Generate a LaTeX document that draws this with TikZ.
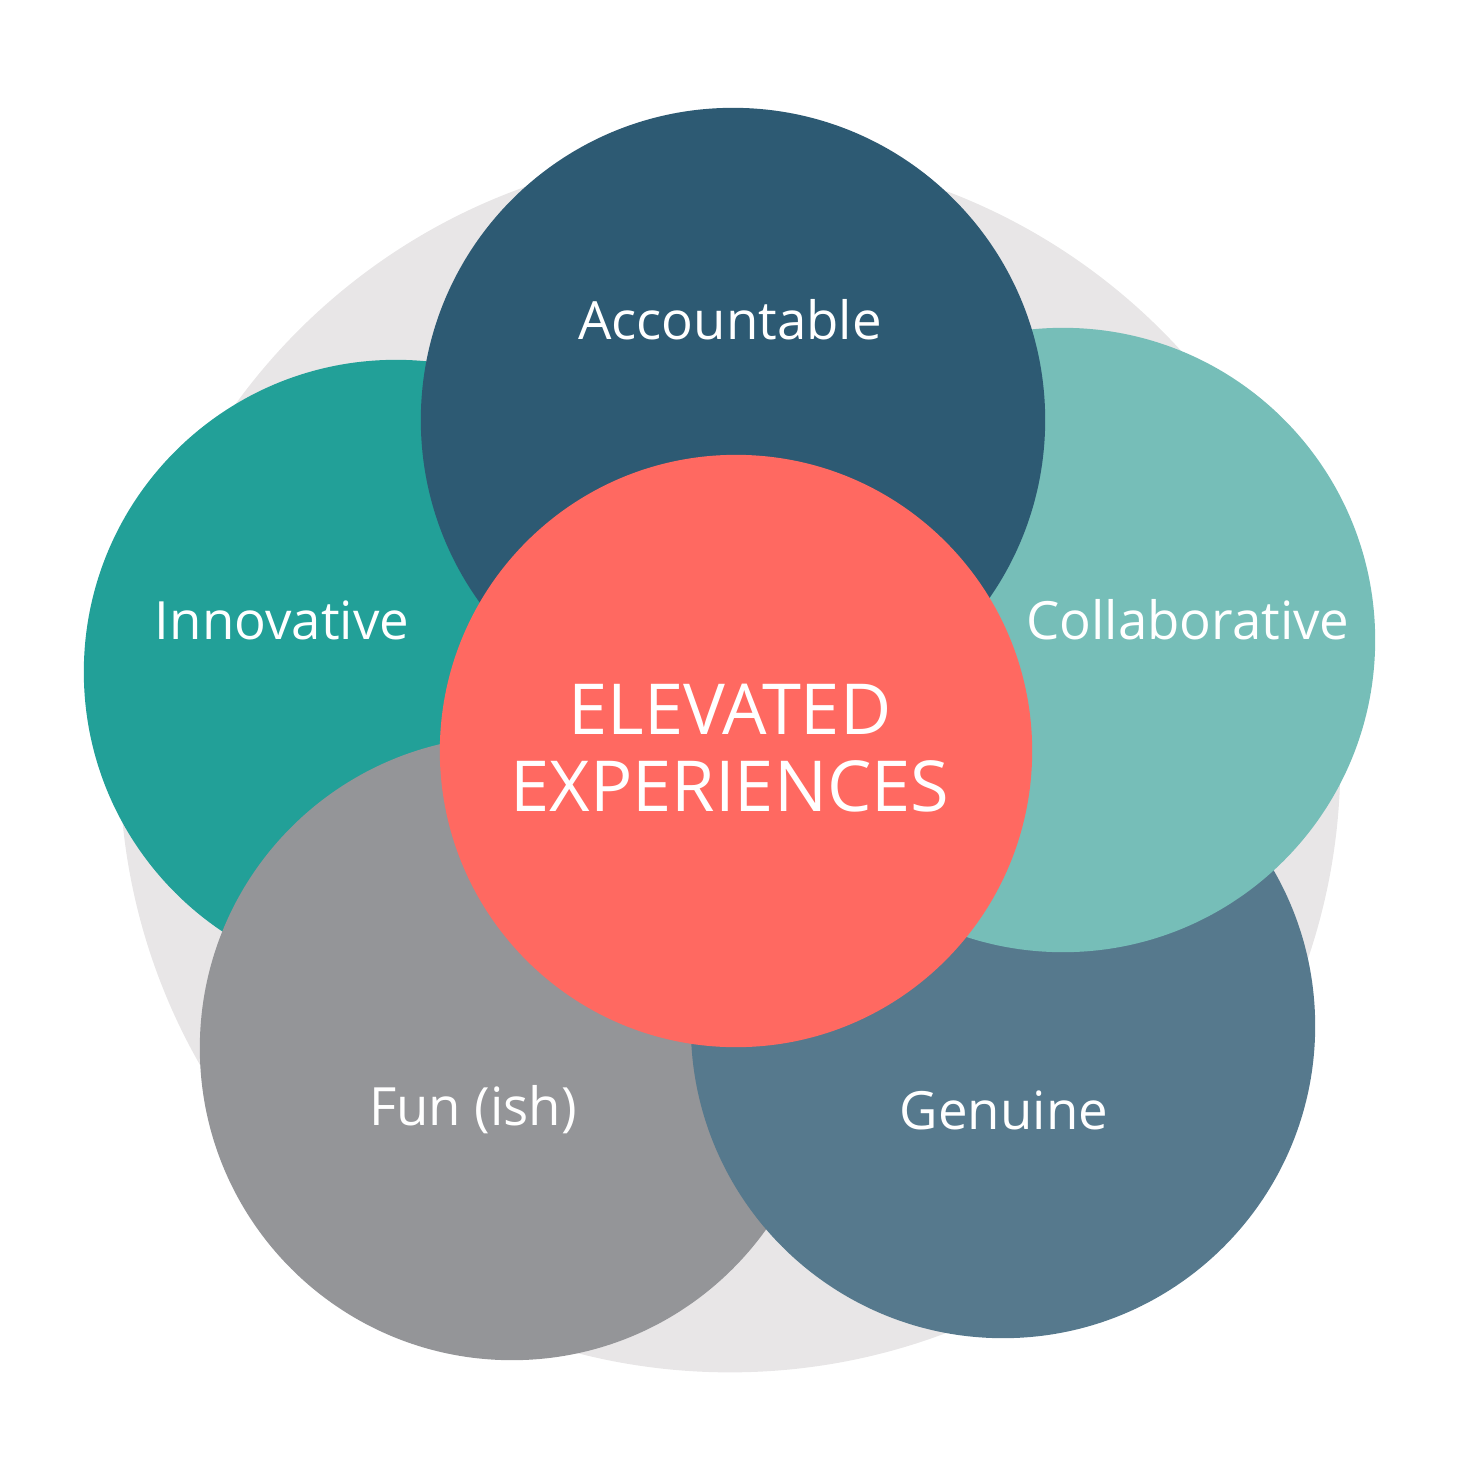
\documentclass[tikz,border=0pt]{standalone}
\usepackage{fontspec}
\setmainfont{Open Sans}
\definecolor{bgc}{HTML}{E8E6E7}
\definecolor{acc}{HTML}{2D5A73}
\definecolor{col}{HTML}{76BEB8}
\definecolor{inn}{HTML}{22A098}
\definecolor{fun}{HTML}{949598}
\definecolor{gen}{HTML}{56798D}
\definecolor{cen}{HTML}{FF6961}
\begin{document}
\begin{tikzpicture}[x=0.01cm,y=-0.01cm,
  petal/.style={circle,minimum size=6.24cm,inner sep=0pt,draw=none},
  lbl/.style={text=white,font=\fontsize{15}{18}\selectfont},
  biglbl/.style={text=white,font=\fontsize{20}{22}\selectfont,align=center}]
\useasboundingbox (0,0) rectangle (1459,1460);
\node[circle,minimum size=12.2cm,inner sep=0pt,fill=bgc] (bg) at (730,762) {};
\node[petal,fill=inn] (inn) at (396,672) {};
\node[petal,fill=fun] (fun) at (512,1048) {};
\node[petal,fill=gen] (gen) at (1003,1026) {};
\node[petal,fill=col] (col) at (1063,640) {};
\node[petal,fill=acc] (acc) at (733,420) {};
\node[circle,minimum size=5.92cm,inner sep=0pt,fill=cen] (cen) at (736,751) {};
\node[lbl] (tacc) at (730,320) {Accountable};
\node[lbl] (tinn) at (282,620) {Innovative};
\node[lbl] (tcol) at (1188,620) {Collaborative};
\node[lbl] (tfun) at (473,1110) {Fun (ish)};
\node[lbl] (tgen) at (1004,1110) {Genuine};
\node[biglbl] (tcen) at (730,748) {ELEVATED\\EXPERIENCES};
\end{tikzpicture}
\end{document}
